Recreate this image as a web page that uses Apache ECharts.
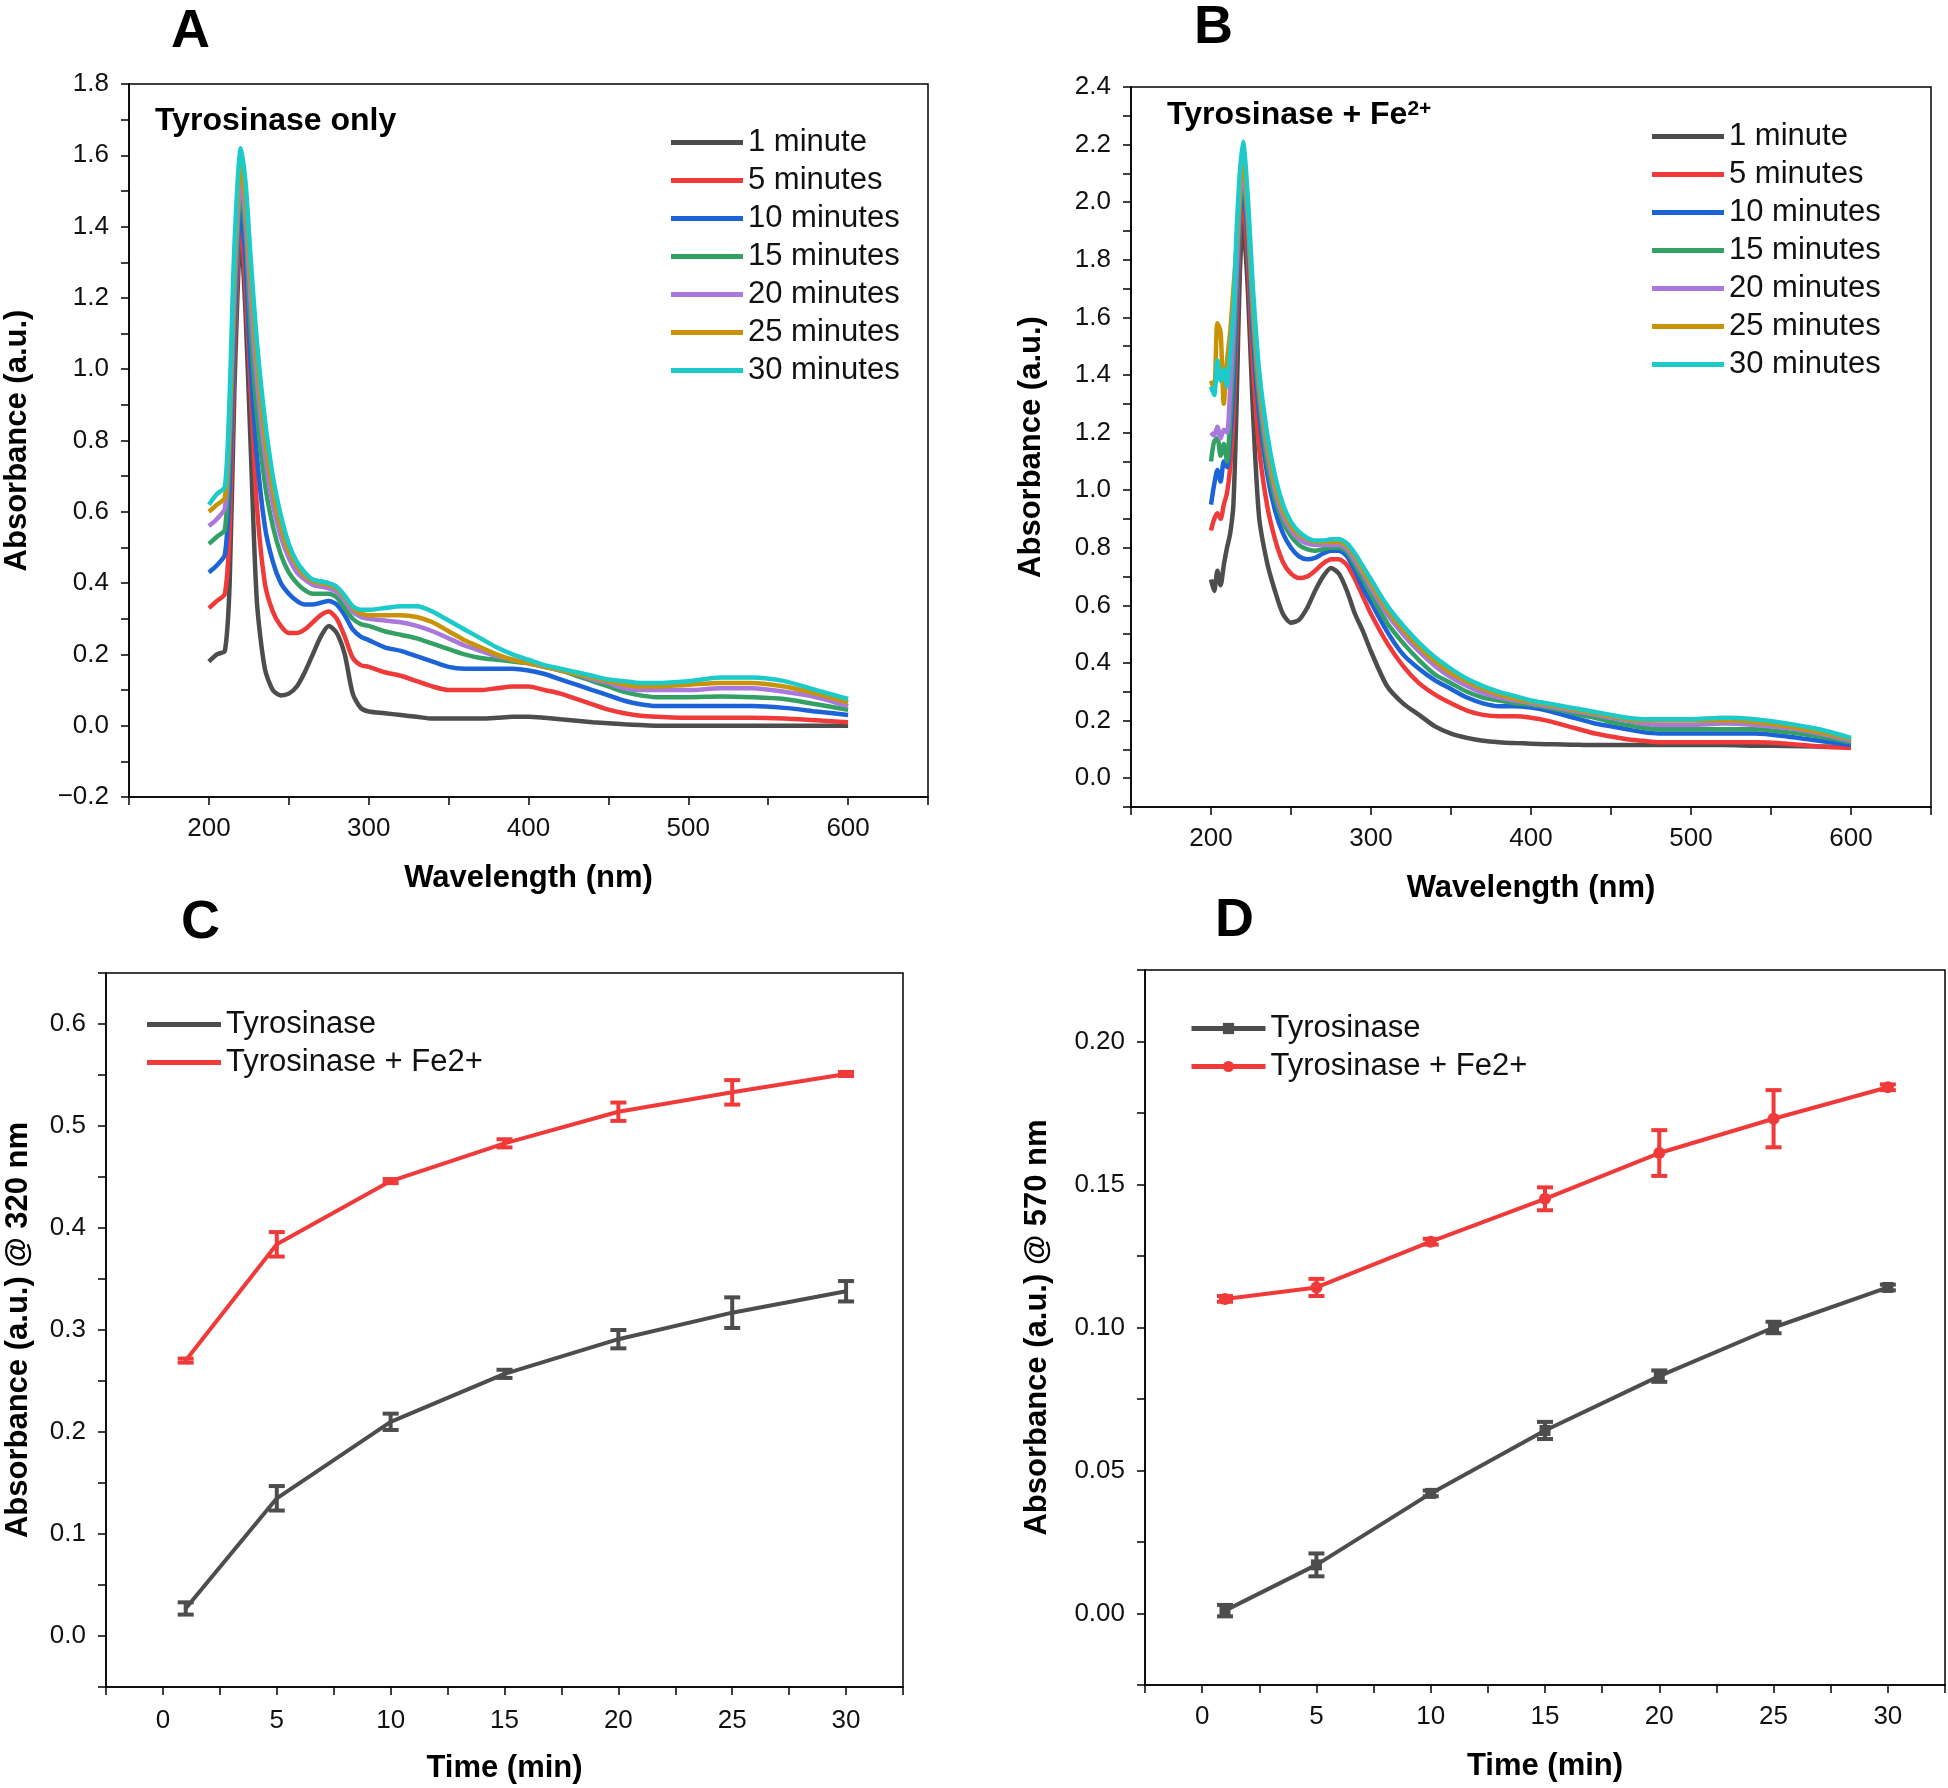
<!DOCTYPE html>
<html>
<head>
<meta charset="UTF-8">
<title>Tyrosinase absorbance</title>
<style>
  * { margin: 0; padding: 0; }
  body { background: #fff; }
  #chart { width: 1948px; height: 1788px; }
</style>
</head>
<body>
<div id="chart"></div>
<script src="https://cdn.jsdelivr.net/npm/echarts@6/dist/echarts.min.js"></script>
<script>
// ---- panel A: Tyrosinase only (spectra) ----
var wlA = [200,205,210,213,216,220,223,226,230,235,240,245,250,255,260,265,270,275,280,285,290,295,300,
  310,320,330,340,350,360,370,380,390,400,410,420,430,440,450,460,470,480,500,520,540,560,580,600];
var a1  = [0.18,0.20,0.21,0.40,0.95,1.38,1.15,0.80,0.35,0.16,0.10,0.085,0.09,0.11,0.15,0.20,0.25,0.28,0.26,0.20,0.09,0.05,0.04,
  0.035,0.03,0.025,0.02,0.02,0.02,0.02,0.022,0.025,0.025,0.022,0.018,0.014,0.01,0.007,0.004,0.002,0.0,0.0,0.0,0.0,0.0,0.0,0.0];
var a5  = [0.33,0.35,0.37,0.55,1.05,1.42,1.22,0.95,0.62,0.40,0.32,0.28,0.26,0.26,0.27,0.29,0.31,0.32,0.30,0.25,0.19,0.17,0.165,
  0.15,0.14,0.125,0.11,0.10,0.10,0.10,0.105,0.11,0.11,0.10,0.09,0.075,0.06,0.045,0.035,0.028,0.025,0.022,0.022,0.022,0.02,0.015,0.01];
var a10 = [0.43,0.45,0.48,0.68,1.12,1.46,1.30,1.02,0.76,0.56,0.46,0.40,0.37,0.35,0.34,0.34,0.345,0.35,0.34,0.31,0.27,0.25,0.24,
  0.22,0.21,0.195,0.18,0.165,0.16,0.16,0.16,0.16,0.155,0.145,0.13,0.115,0.10,0.085,0.07,0.06,0.055,0.055,0.055,0.055,0.05,0.04,0.03];
var a15 = [0.51,0.53,0.55,0.78,1.18,1.50,1.38,1.12,0.88,0.68,0.56,0.48,0.43,0.40,0.38,0.37,0.37,0.37,0.36,0.33,0.30,0.285,0.28,
  0.265,0.255,0.245,0.23,0.215,0.20,0.19,0.185,0.18,0.175,0.165,0.155,0.14,0.125,0.11,0.095,0.085,0.08,0.08,0.082,0.08,0.075,0.06,0.045];
var a20 = [0.56,0.58,0.61,0.84,1.24,1.53,1.42,1.20,0.97,0.76,0.62,0.53,0.47,0.43,0.41,0.395,0.39,0.385,0.375,0.35,0.32,0.305,0.30,
  0.295,0.29,0.28,0.265,0.245,0.225,0.21,0.195,0.185,0.175,0.165,0.155,0.145,0.13,0.12,0.105,0.10,0.10,0.10,0.105,0.105,0.095,0.08,0.055];
var a25 = [0.60,0.62,0.64,0.88,1.30,1.57,1.47,1.27,1.03,0.81,0.66,0.56,0.49,0.45,0.42,0.405,0.40,0.395,0.385,0.36,0.33,0.315,0.31,
  0.31,0.31,0.305,0.29,0.265,0.24,0.22,0.20,0.185,0.175,0.165,0.155,0.145,0.135,0.125,0.115,0.11,0.11,0.115,0.12,0.12,0.11,0.09,0.065];
var a30 = [0.62,0.65,0.67,0.93,1.35,1.62,1.52,1.32,1.08,0.86,0.70,0.59,0.51,0.46,0.43,0.41,0.405,0.40,0.39,0.365,0.335,0.325,0.325,
  0.33,0.335,0.335,0.32,0.295,0.27,0.245,0.22,0.20,0.185,0.17,0.16,0.15,0.14,0.13,0.125,0.12,0.12,0.125,0.135,0.135,0.125,0.10,0.075];

// ---- panel B: Tyrosinase + Fe2+ (spectra) ----
var wlB = [200,202,204,206,208,210,212,214,216,218,220,223,226,230,235,240,245,250,255,260,265,270,275,280,285,290,295,300,
  310,320,330,340,350,360,370,380,390,400,410,420,430,440,450,460,470,480,500,520,540,560,580,600];
var b1  = [0.69,0.65,0.72,0.67,0.74,0.80,0.85,0.95,1.30,1.75,1.93,1.70,1.30,0.91,0.75,0.65,0.57,0.54,0.55,0.59,0.65,0.70,0.73,0.71,0.65,0.57,0.51,0.44,
  0.32,0.26,0.22,0.18,0.155,0.14,0.13,0.125,0.122,0.12,0.118,0.117,0.116,0.115,0.115,0.115,0.115,0.115,0.115,0.115,0.113,0.112,0.11,0.108];
var b5  = [0.86,0.90,0.92,0.90,0.95,0.99,1.08,1.25,1.55,1.90,2.00,1.80,1.45,1.15,0.95,0.83,0.75,0.71,0.695,0.70,0.72,0.745,0.76,0.76,0.74,0.69,0.63,0.57,
  0.47,0.39,0.33,0.29,0.26,0.235,0.22,0.215,0.215,0.21,0.20,0.185,0.17,0.155,0.145,0.135,0.13,0.125,0.125,0.125,0.125,0.12,0.11,0.105];
var b10 = [0.95,1.02,1.07,1.03,1.10,1.08,1.18,1.35,1.65,1.95,2.05,1.88,1.55,1.27,1.06,0.93,0.85,0.80,0.77,0.76,0.765,0.78,0.79,0.79,0.77,0.72,0.66,0.61,
  0.51,0.43,0.38,0.34,0.31,0.28,0.26,0.25,0.25,0.245,0.235,0.22,0.205,0.19,0.18,0.17,0.16,0.155,0.155,0.155,0.155,0.145,0.13,0.115];
var b15 = [1.10,1.17,1.18,1.12,1.16,1.10,1.25,1.45,1.72,1.98,2.08,1.92,1.60,1.32,1.10,0.97,0.89,0.84,0.81,0.795,0.79,0.795,0.80,0.80,0.785,0.74,0.69,0.64,
  0.54,0.47,0.41,0.36,0.33,0.30,0.28,0.27,0.26,0.255,0.245,0.235,0.22,0.21,0.195,0.185,0.175,0.17,0.17,0.17,0.17,0.16,0.145,0.125];
var b20 = [1.20,1.19,1.22,1.18,1.21,1.20,1.35,1.55,1.78,2.02,2.10,1.95,1.65,1.36,1.14,1.00,0.91,0.86,0.83,0.815,0.81,0.81,0.81,0.81,0.795,0.755,0.71,0.66,
  0.57,0.50,0.44,0.39,0.35,0.32,0.295,0.28,0.27,0.26,0.25,0.24,0.23,0.22,0.21,0.20,0.19,0.185,0.185,0.19,0.185,0.175,0.155,0.13];
var b25 = [1.38,1.35,1.58,1.55,1.30,1.45,1.55,1.70,1.85,2.05,2.15,1.98,1.68,1.39,1.17,1.02,0.93,0.875,0.845,0.83,0.82,0.82,0.82,0.82,0.805,0.77,0.72,0.675,
  0.585,0.515,0.455,0.405,0.365,0.335,0.31,0.29,0.275,0.265,0.255,0.245,0.235,0.225,0.215,0.205,0.20,0.20,0.20,0.20,0.195,0.18,0.16,0.135];
var b30 = [1.36,1.33,1.45,1.38,1.42,1.36,1.48,1.62,1.90,2.10,2.21,2.02,1.72,1.42,1.20,1.05,0.95,0.89,0.855,0.835,0.825,0.825,0.83,0.83,0.815,0.78,0.735,0.69,
  0.60,0.53,0.47,0.42,0.38,0.345,0.32,0.30,0.285,0.27,0.26,0.25,0.24,0.23,0.22,0.21,0.205,0.205,0.205,0.21,0.205,0.19,0.17,0.14];

var spectraNames = ['1 minute','5 minutes','10 minutes','15 minutes','20 minutes','25 minutes','30 minutes'];
var spectraColors = ['#4d4d4d','#f03a3a','#1c62d8','#33a164','#a878dc','#c99308','#1ccaca'];

// ---- panels C and D: kinetics ----
var time = [1,5,10,15,20,25,30];
var c_tyr    = [0.027,0.135,0.210,0.257,0.291,0.317,0.338];
var c_tyrErr = [0.006,0.012,0.008,0.004,0.009,0.015,0.010];
var c_fe     = [0.270,0.384,0.446,0.483,0.514,0.533,0.551];
var c_feErr  = [0.002,0.012,0.002,0.004,0.009,0.012,0.002];
var d_tyr    = [0.001,0.017,0.042,0.064,0.083,0.100,0.114];
var d_tyrErr = [0.002,0.004,0.001,0.003,0.002,0.002,0.001];
var d_fe     = [0.110,0.114,0.130,0.145,0.161,0.173,0.184];
var d_feErr  = [0.001,0.003,0.001,0.004,0.008,0.010,0.001];

var FONT = 'Liberation Sans, Arial, sans-serif';
var DARK = '#4d4d4d', RED = '#f03a3a';
var LINE_ICON = 'path://M0,0H72V5H0Z';

function pairs(xs, ys) {
  return xs.map(function (x, i) { return [x, ys[i]]; });
}

function axisBase() {
  return {
    type: 'value',
    splitLine: { show: false },
    axisLine: { show: true, onZero: false, lineStyle: { color: '#000', width: 1.5 } },
    axisTick: { show: true, inside: false, length: 8, lineStyle: { color: '#000', width: 1.5 } },
    axisLabel: { color: '#111', fontSize: 26, fontFamily: FONT, margin: 19 },
    nameLocation: 'middle',
    nameMoveOverlap: false,
    nameTextStyle: { color: '#000', fontSize: 31, fontWeight: 'bold', fontFamily: FONT }
  };
}
function merge(a, b) {
  for (var k in b) {
    if (b[k] && typeof b[k] === 'object' && !Array.isArray(b[k]) && a[k]) merge(a[k], b[k]);
    else a[k] = b[k];
  }
  return a;
}
function signed(v, d) {
  return (v < 0 ? '\u2212' : '') + Math.abs(v).toFixed(d);
}

// error bars drawn through the axis scale
function errorBars(xi, ys, errs, color) {
  return {
    type: 'custom',
    xAxisIndex: xi, yAxisIndex: xi,
    z: 4,
    data: time.map(function (t, i) { return [t, ys[i], errs[i]]; }),
    encode: { x: 0, y: 1 },
    renderItem: function (params, api) {
      var x = api.value(0), y = api.value(1), e = api.value(2);
      var lo = api.coord([x, y - e]);
      var hi = api.coord([x, y + e]);
      var w = 8;
      var st = { stroke: color, lineWidth: 4 };
      return {
        type: 'group',
        children: [
          { type: 'line', shape: { x1: lo[0], y1: lo[1], x2: hi[0], y2: hi[1] }, style: st },
          { type: 'line', shape: { x1: lo[0] - w, y1: lo[1], x2: lo[0] + w, y2: lo[1] }, style: st },
          { type: 'line', shape: { x1: hi[0] - w, y1: hi[1], x2: hi[0] + w, y2: hi[1] }, style: st }
        ]
      };
    }
  };
}

var series = [];
var specA = [a1, a5, a10, a15, a20, a25, a30];
var specB = [b1, b5, b10, b15, b20, b25, b30];
specA.forEach(function (ys, i) {
  series.push({ name: spectraNames[i], type: 'line', xAxisIndex: 0, yAxisIndex: 0, data: pairs(wlA, ys),
    symbol: 'none', smooth: 0.25, color: spectraColors[i], lineStyle: { width: 4.5 } });
});
specB.forEach(function (ys, i) {
  series.push({ name: spectraNames[i], type: 'line', xAxisIndex: 1, yAxisIndex: 1, data: pairs(wlB, ys),
    symbol: 'none', smooth: 0.25, color: spectraColors[i], lineStyle: { width: 4.5 } });
});
series.push({ name: 'Tyrosinase', type: 'line', xAxisIndex: 2, yAxisIndex: 2, data: pairs(time, c_tyr),
  symbol: 'none', color: DARK, lineStyle: { width: 4 } });
series.push({ name: 'Tyrosinase + Fe2+', type: 'line', xAxisIndex: 2, yAxisIndex: 2, data: pairs(time, c_fe),
  symbol: 'none', color: RED, lineStyle: { width: 4 } });
series.push(errorBars(2, c_tyr, c_tyrErr, DARK));
series.push(errorBars(2, c_fe, c_feErr, RED));
series.push({ name: 'D:Tyrosinase', type: 'line', xAxisIndex: 3, yAxisIndex: 3, data: pairs(time, d_tyr),
  symbol: 'rect', symbolSize: 11, color: DARK, lineStyle: { width: 4 } });
series.push({ name: 'D:Tyrosinase + Fe2+', type: 'line', xAxisIndex: 3, yAxisIndex: 3, data: pairs(time, d_fe),
  symbol: 'circle', symbolSize: 12, color: RED, lineStyle: { width: 4 } });
series.push(errorBars(3, d_tyr, d_tyrErr, DARK));
series.push(errorBars(3, d_fe, d_feErr, RED));

var gridStyle = { show: true, borderColor: '#000', borderWidth: 1.5, backgroundColor: 'transparent',
  containLabel: false, outerBoundsMode: 'none' };
var grids = [
  merge({ left: 129, top: 84, width: 799, height: 713 }, gridStyle),
  merge({ left: 1131, top: 87, width: 800, height: 720 }, gridStyle),
  merge({ left: 106, top: 973, width: 797, height: 714 }, gridStyle),
  merge({ left: 1145, top: 970, width: 800, height: 715 }, gridStyle)
];

function nmLabel(v) { return (v % 100 === 0 && v >= 200 && v <= 600) ? String(v) : ''; }
function timeLabel(v) { return (v >= 0 && v <= 30 && Math.round(v * 10) % 50 === 0) ? String(Math.round(v)) : ''; }

var xAxes = [
  merge(axisBase(), { gridIndex: 0, min: 150, max: 650, interval: 50, name: 'Wavelength (nm)', nameGap: 66,
    axisLabel: { formatter: nmLabel } }),
  merge(axisBase(), { gridIndex: 1, min: 150, max: 650, interval: 50, name: 'Wavelength (nm)', nameGap: 66,
    axisLabel: { formatter: nmLabel } }),
  merge(axisBase(), { gridIndex: 2, min: -2.5, max: 32.5, interval: 2.5, name: 'Time (min)', nameGap: 66,
    axisLabel: { formatter: timeLabel, margin: 21 } }),
  merge(axisBase(), { gridIndex: 3, min: -2.5, max: 32.5, interval: 2.5, name: 'Time (min)', nameGap: 66,
    axisLabel: { formatter: timeLabel } })
];
var yAxes = [
  merge(axisBase(), { gridIndex: 0, min: -0.2, max: 1.8, interval: 0.1, name: 'Absorbance (a.u.)', nameGap: 96,
    axisLabel: { margin: 20, formatter: function (v) { return Math.round(v * 10) % 2 === 0 ? signed(v, 1) : ''; } } }),
  merge(axisBase(), { gridIndex: 1, min: -0.1, max: 2.4, interval: 0.1, name: 'Absorbance (a.u.)', nameGap: 84,
    axisLabel: { margin: 20, formatter: function (v) { return (v >= 0 && Math.round(v * 10) % 2 === 0) ? signed(v, 1) : ''; } } }),
  merge(axisBase(), { gridIndex: 2, min: -0.05, max: 0.65, interval: 0.05, name: 'Absorbance (a.u.) @ 320 nm', nameGap: 72,
    axisLabel: { margin: 20, formatter: function (v) { return (v >= 0 && Math.round(v * 100) % 10 === 0) ? signed(v, 1) : ''; } } }),
  merge(axisBase(), { gridIndex: 3, min: -0.025, max: 0.225, interval: 0.025, name: 'Absorbance (a.u.) @ 570 nm', nameGap: 92,
    axisLabel: { margin: 20, formatter: function (v) { return (v >= 0 && Math.round(v * 1000) % 50 === 0) ? signed(v, 2) : ''; } } })
];

function lineItems(names) {
  return names.map(function (n) { return { name: n, icon: LINE_ICON }; });
}
var legendText = { color: '#111', fontSize: 31, fontFamily: FONT };
var legends = [
  { left: 671, top: 127, padding: 0, orient: 'vertical', itemWidth: 72, itemHeight: 14, itemGap: 7, textStyle: legendText,
    data: lineItems(spectraNames), selectedMode: false },
  { left: 1652, top: 121, padding: 0, orient: 'vertical', itemWidth: 72, itemHeight: 14, itemGap: 7, textStyle: legendText,
    data: lineItems(spectraNames), selectedMode: false },
  { left: 147, top: 1009, padding: 0, orient: 'vertical', itemWidth: 74, itemHeight: 14, itemGap: 7, textStyle: legendText,
    data: lineItems(['Tyrosinase', 'Tyrosinase + Fe2+']), selectedMode: false },
  { left: 1189, top: 1013, padding: 0, orient: 'vertical', itemWidth: 74, itemHeight: 14, itemGap: 7, textStyle: legendText,
    lineStyle: { width: 5 },
    data: ['D:Tyrosinase', 'D:Tyrosinase + Fe2+'], selectedMode: false,
    formatter: function (n) { return n.replace('D:', ''); } }
];

var letterStyle = { color: '#000', fontSize: 54, fontWeight: 'bold', fontFamily: FONT };
var titles = [
  { text: 'A', left: 166, top: 0, textStyle: letterStyle },
  { text: 'B', left: 1189, top: -4, textStyle: letterStyle },
  { text: 'C', left: 176, top: 891, textStyle: letterStyle },
  { text: 'D', left: 1210, top: 889, textStyle: letterStyle },
  { text: 'Tyrosinase only', left: 150, top: 100,
    textStyle: { color: '#000', fontSize: 32, fontWeight: 'bold', fontFamily: FONT } },
  { text: '{a|Tyrosinase + Fe}{s|2+}', left: 1162, top: 94,
    textStyle: { rich: {
      a: { color: '#000', fontSize: 32, fontWeight: 'bold', fontFamily: FONT },
      s: { color: '#000', fontSize: 21, fontWeight: 'bold', fontFamily: FONT, verticalAlign: 'top' }
    } } }
];

var chart = echarts.init(document.getElementById('chart'), null, { renderer: 'canvas' });
chart.setOption({
  animation: false,
  backgroundColor: '#fff',
  title: titles,
  legend: legends,
  grid: grids,
  xAxis: xAxes,
  yAxis: yAxes,
  series: series
});
</script>
</body>
</html>
